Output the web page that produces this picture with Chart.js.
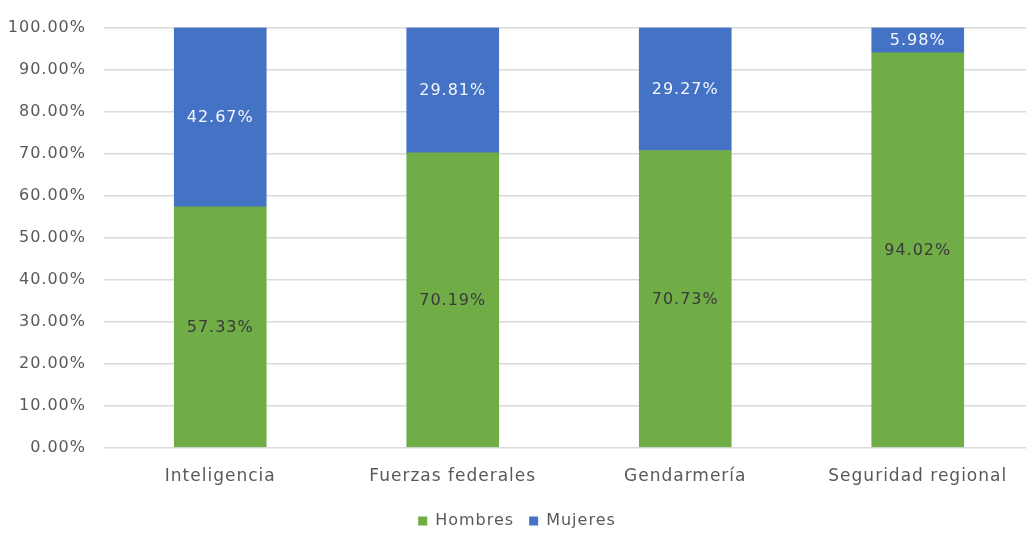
<!DOCTYPE html>
<html>
<head>
<meta charset="utf-8">
<script src="https://cdn.jsdelivr.net/npm/chart.js@4.4.1/dist/chart.umd.min.js"></script>
<style>
  html, body { margin: 0; padding: 0; background: #fff; overflow: hidden; }
  #wrap { position: absolute; left: 0; top: 0; width: 1034px; height: 534px; }
</style>
</head>
<body>
<div id="wrap"><canvas id="myChartGenero"></canvas></div>
<script>
// data
const categorias = ["Inteligencia", "Fuerzas federales", "Gendarmería", "Seguridad regional"];
const hombres = [57.33, 70.19, 70.73, 94.02];
const mujeres = [42.67, 29.81, 29.27, 5.98];
const yTicks = [0, 10, 20, 30, 40, 50, 60, 70, 80, 90, 100];

const FONT = "'DejaVu Sans', Verdana, sans-serif";

// wider letter spacing for all canvas text
const spacingPlugin = {
  id: "spacing",
  beforeLayout(chart) { chart.ctx.letterSpacing = "1px"; },
  beforeDraw(chart) { chart.ctx.letterSpacing = "1px"; },
};

// value labels in the middle of each segment
const segmentLabels = {
  id: "segmentLabels",
  afterDatasetsDraw(chart) {
    const ctx = chart.ctx;
    ctx.save();
    ctx.letterSpacing = "1px";
    ctx.font = "16px " + FONT;
    ctx.textAlign = "center";
    ctx.textBaseline = "middle";
    chart.data.datasets.forEach((ds, i) => {
      const meta = chart.getDatasetMeta(i);
      meta.data.forEach((bar, j) => {
        const p = bar.getProps(["x", "y", "base"], true);
        ctx.fillStyle = ds.labelColor;
        ctx.fillText(ds.data[j].toFixed(2) + "%", p.x, (p.y + p.base) / 2 + 1);
      });
    });
    ctx.restore();
  },
};

// setup
const data = {
  labels: categorias,
  datasets: [
    {
      label: "Hombres",
      data: hombres,
      backgroundColor: "#70AD47",
      labelColor: "#3a3a3a",
    },
    {
      label: "Mujeres",
      data: mujeres,
      backgroundColor: "#4472C4",
      labelColor: "#f4f6fb",
    },
  ],
};

// config
const config = {
  type: "bar",
  data,
  options: {
    responsive: true,
    maintainAspectRatio: false,
    animation: false,
    barThickness: 92,
    layout: { padding: { top: 14, left: 0, right: 0, bottom: -5 } },
    scales: {
      x: {
        stacked: true,
        grid: { display: false },
        border: { display: false },
        ticks: { color: "#595959", font: { family: FONT, size: 17 }, padding: 11 },
      },
      y: {
        stacked: true,
        min: 0,
        max: 100,
        afterBuildTicks(scale) { scale.ticks = yTicks.map((v) => ({ value: v })); },
        afterFit(scale) { scale.width = 104; },
        grid: { color: "#dadada", lineWidth: 1.5, drawTicks: false },
        border: { display: false },
        ticks: {
          color: "#595959",
          font: { family: FONT, size: 16 },
          padding: 18,
          callback: (v) => v.toFixed(2) + "%",
        },
      },
    },
    plugins: {
      legend: {
        position: "bottom",
        labels: {
          color: "#595959",
          font: { family: FONT, size: 16 },
          boxWidth: 9,
          boxHeight: 9,
          padding: 15,
        },
      },
      tooltip: { enabled: false },
    },
  },
  plugins: [spacingPlugin, segmentLabels],
};

// render init block
const myChartGenero = new Chart(document.getElementById("myChartGenero"), config);
</script>
</body>
</html>
